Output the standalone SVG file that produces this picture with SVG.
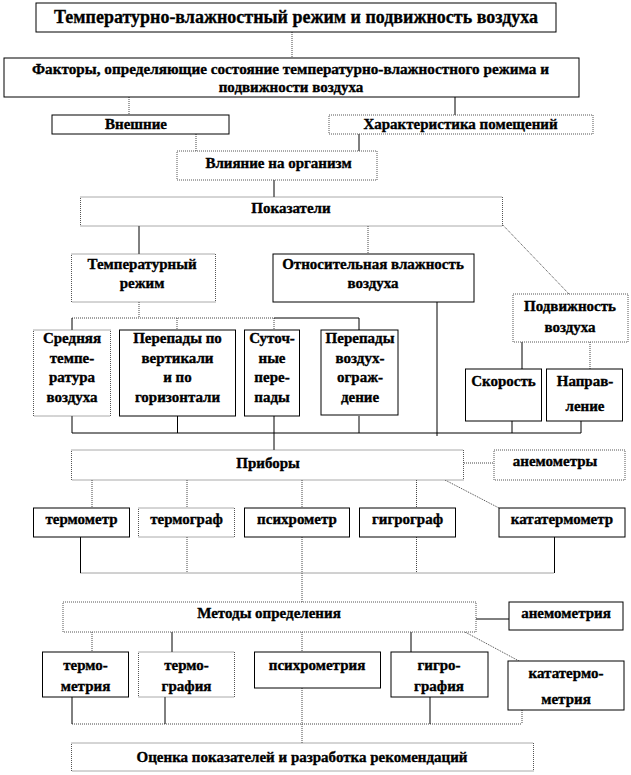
<svg xmlns="http://www.w3.org/2000/svg" width="631" height="775" viewBox="0 0 631 775">
<style>
.bx{fill:#fff;stroke:#000;stroke-width:1}
.bd{fill:#fff;stroke:#555;stroke-width:1;stroke-dasharray:1 1}
text{font-family:"Liberation Serif","Times New Roman",serif;font-weight:bold;font-size:15px;fill:#000;stroke:#000;stroke-width:0.35;text-anchor:middle}
.t{font-size:19px}
.s{fill:none;stroke:#000;stroke-width:1}
.d{fill:none;stroke:#444;stroke-width:1;stroke-dasharray:1 1}
</style>
<rect width="631" height="775" fill="#fff"/>
<g id="connectors">
<path class="d" d="M292,32V58M129,97V115M196,134V151M368,226V254M499,221L569,294M139,302V318M72,318H274M177,318V330M274,318V330M590,342V369M464,463H494M92,480V508M187,480V508M302,480V508M416.5,480V508M445,480L499,508M187,537V573M302,537V602M416.5,537V573M80.5,573H554.5M92,632V652M302,632V652M465,632L519,661M522,710V724M72,724H522M302,688V743"/>
<path class="s" d="M455,97V115M359,134V151M274,180V197M139,226V254M274,318H359M72,318V330M359,318V330M437,302V436M522,342V369M72,433H581M72,416V433M177.5,416V433M274,416V450M359,416V433M512,421V433M581,421V433M80.5,537V573M554.5,537V573M476,619H509M172,632V652M411,632V652M72,697V724M165,697V724M430,697V724"/>
</g>
<g id="n-title"><rect class="bx" x="36" y="3" width="520" height="29"/><text class="t" x="296" y="23" textLength="484" lengthAdjust="spacingAndGlyphs">Температурно-влажностный режим и подвижность воздуха</text></g>
<g id="n-factors"><rect class="bx" x="4" y="58" width="575" height="39"/><text x="290.5" y="74" textLength="517" lengthAdjust="spacingAndGlyphs">Факторы, определяющие  состояние температурно-влажностного режима и</text><text x="291" y="92">подвижности воздуха</text></g>
<g id="n-external"><rect class="bx" x="52" y="115" width="177" height="19"/><text x="136" y="129">Внешние</text></g>
<g id="n-rooms"><rect class="bd" x="329" y="115" width="264" height="19"/><text x="460.5" y="129">Характеристика помещений</text></g>
<g id="n-influence"><rect class="bd" x="177" y="151" width="200" height="29"/><text x="278.5" y="168">Влияние на организм</text></g>
<g id="n-indicators"><rect class="bd" x="80.5" y="197" width="422" height="29"/><text x="291" y="213">Показатели</text></g>
<g id="n-temp"><rect class="bd" x="71.5" y="254" width="144" height="48"/><text x="142" y="269">Температурный</text><text x="142" y="288">режим</text></g>
<g id="n-humidity"><rect class="bx" x="273" y="254" width="201" height="48"/><text x="373" y="269">Относительная влажность</text><text x="373" y="288">воздуха</text></g>
<g id="n-mobility"><rect class="bd" x="513" y="294" width="115" height="48"/><text x="570" y="311">Подвижность</text><text x="570" y="332">воздуха</text></g>
<g id="n-avg"><rect class="bd" x="33.5" y="330" width="77" height="86"/><text x="72" y="343">Средняя</text><text x="72" y="363">темпе-</text><text x="72" y="382">ратура</text><text x="72" y="402">воздуха</text></g>
<g id="n-vert"><rect class="bx" x="119.5" y="330" width="116" height="86"/><text x="177.5" y="343">Перепады по</text><text x="177.5" y="363">вертикали</text><text x="177.5" y="382">и по</text><text x="177.5" y="402">горизонтали</text></g>
<g id="n-daily"><rect class="bx" x="244.5" y="330" width="55" height="86"/><text x="272" y="343">Суточ-</text><text x="272" y="363">ные</text><text x="272" y="382">пере-</text><text x="272" y="402">пады</text></g>
<g id="n-air"><rect class="bx" x="321" y="330" width="77" height="85"/><text x="360" y="343">Перепады</text><text x="360" y="363">воздух-</text><text x="360" y="382">ограж-</text><text x="360" y="402">дение</text></g>
<g id="n-speed"><rect class="bx" x="465.5" y="369" width="76" height="52"/><text x="503.5" y="386">Скорость</text></g>
<g id="n-direction"><rect class="bx" x="546.5" y="369" width="76" height="52"/><text x="585" y="386">Направ-</text><text x="585" y="411">ление</text></g>
<g id="n-instruments"><rect class="bd" x="71.5" y="450" width="392" height="30"/><text x="268" y="468">Приборы</text></g>
<g id="n-anemometers"><rect class="bd" x="494" y="450" width="131" height="30"/><text x="555" y="466">анемометры</text></g>
<g id="n-thermometer"><rect class="bx" x="33.5" y="508" width="96" height="29"/><text x="81.5" y="524">термометр</text></g>
<g id="n-thermograph"><rect class="bd" x="138.5" y="508" width="96" height="29"/><text x="186.5" y="524">термограф</text></g>
<g id="n-psychrometer"><rect class="bx" x="244.5" y="508" width="105" height="29"/><text x="297" y="524">психрометр</text></g>
<g id="n-hygrograph"><rect class="bx" x="359.5" y="508" width="96" height="29"/><text x="407.5" y="524">гигрограф</text></g>
<g id="n-katathermometer"><rect class="bx" x="499" y="508" width="126" height="29"/><text x="562" y="524">кататермометр</text></g>
<g id="n-methods"><rect class="bd" x="63" y="602" width="413" height="30"/><text x="269" y="618">Методы определения</text></g>
<g id="n-anemometry"><rect class="bx" x="509" y="602" width="114" height="28"/><text x="566" y="618">анемометрия</text></g>
<g id="n-thermometry"><rect class="bx" x="42.5" y="652" width="86" height="45"/><text x="85.5" y="670">термо-</text><text x="85.5" y="691">метрия</text></g>
<g id="n-thermography"><rect class="bd" x="138.5" y="652" width="96" height="45"/><text x="186.5" y="670">термо-</text><text x="186.5" y="691">графия</text></g>
<g id="n-psychrometry"><rect class="bx" x="254.5" y="652" width="126" height="36"/><text x="317" y="670">психрометрия</text></g>
<g id="n-hygrography"><rect class="bx" x="391" y="652" width="97" height="45"/><text x="439" y="670">гигро-</text><text x="439" y="691">графия</text></g>
<g id="n-katathermometry"><rect class="bx" x="508" y="661" width="116" height="49"/><text x="566" y="678">кататермо-</text><text x="566" y="704">метрия</text></g>
<g id="n-evaluation"><rect class="bd" x="71.5" y="743" width="462" height="28"/><text x="302" y="762">Оценка показателей и разработка рекомендаций</text></g>
</svg>
